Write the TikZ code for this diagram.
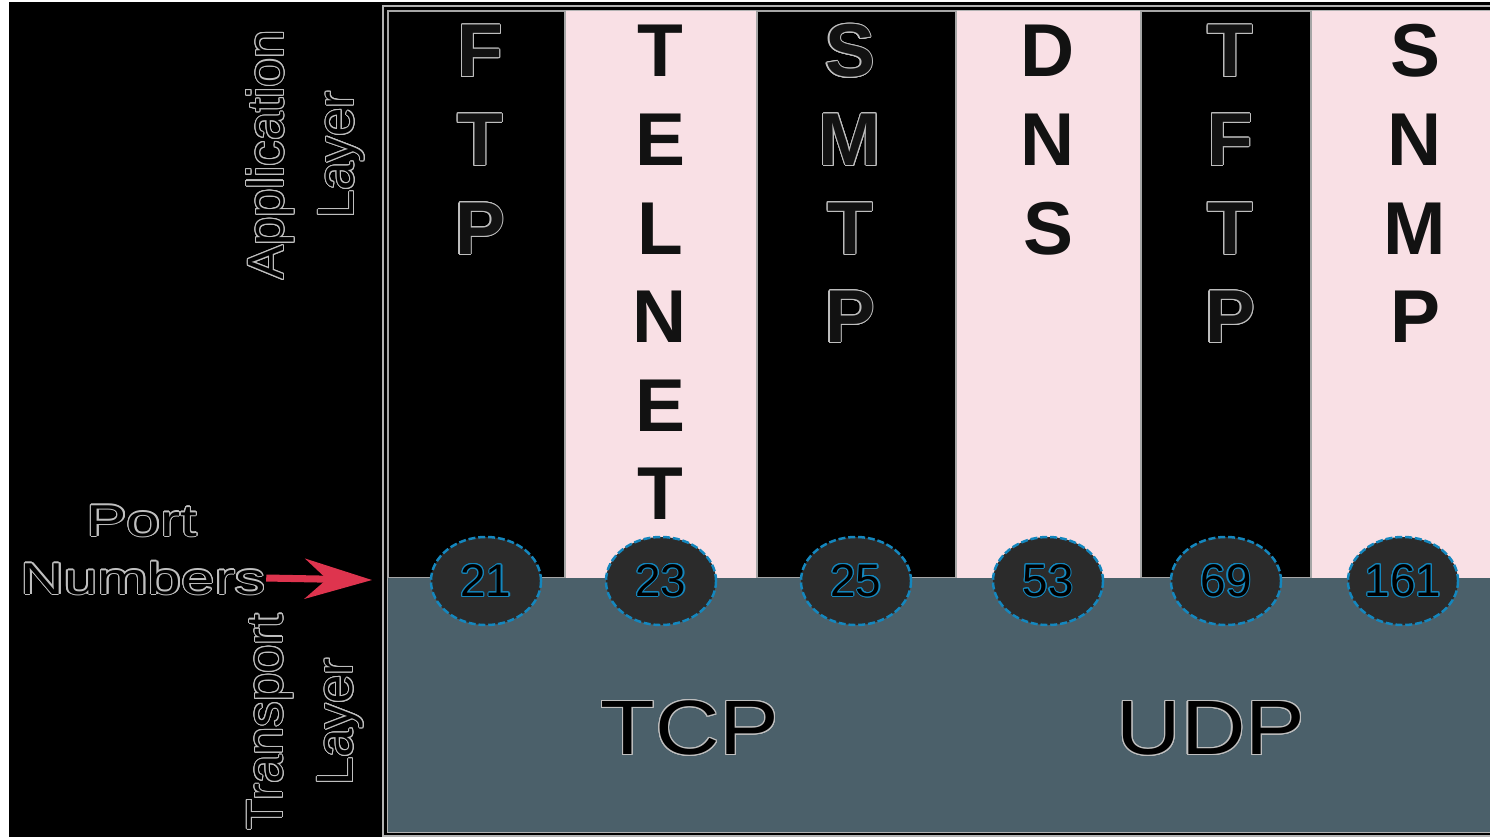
\documentclass[tikz,border=0pt]{standalone}
\usepackage{fontspec}
\setmainfont{Liberation Sans}
\usepackage[copies]{contour}
\usetikzlibrary{positioning,shapes.geometric,arrows.meta}
\definecolor{rowpink}{RGB}{249,224,229}
\definecolor{slate}{RGB}{75,96,106}
\definecolor{portfill}{RGB}{43,43,43}
\definecolor{portblue}{RGB}{20,135,190}
\definecolor{arrowred}{RGB}{222,52,78}
\contourlength{0.3pt}
\newcommand{\outl}[1]{\contour{gray!50}{#1}}
\newcommand{\blueoutl}[1]{\contour{portblue}{#1}}
\begin{document}
\begin{tikzpicture}[x=0.01cm,y=-0.01cm,
    dkcol/.style={fill=black,draw=gray!70,line width=0.6pt},
    ltcol/.style={fill=rowpink},
    letter/.style={inner sep=0,text height=15.3pt,text depth=0pt,font=\bfseries\fontsize{21.3}{25}\selectfont,text=black!93},
    side/.style={inner sep=0,align=center,rotate=90,font=\fontsize{14.5}{20}\selectfont,text=black},
    plabel/.style={inner sep=0,xscale=1.35,text height=9.1pt,text depth=0pt,font=\fontsize{12.7}{15}\selectfont,text=black},
    port/.style={ellipse,fill=portfill,draw=portblue,dash pattern=on 2pt off 0.8pt,line width=0.7pt,minimum width=1.1cm,minimum height=0.88cm,inner sep=0,font=\fontsize{13}{13}\selectfont,text=black},
    proto/.style={inner sep=0,xscale=1.16,text height=15.7pt,text depth=0pt,font=\fontsize{21.9}{22}\selectfont,text=black},
    arr/.style={-{Stealth[length=0.67cm,width=0.4cm,inset=0.22cm]},arrowred,line width=2pt}
]
\useasboundingbox (0,0) rectangle (1490,838);
\clip (0,0) rectangle (1490,838);
\fill[white] (0,0) rectangle (1490,838);
\fill[black] (9,2) rectangle (1490,837);

% layer frame
\draw[gray!60,line width=0.8pt] (383,6) rectangle (1500,836);
\draw[gray!60,line width=0.8pt] (388,11) rectangle (1500,832);

% application columns
\draw[dkcol] (388,11) rectangle (565,578);
\fill[ltcol] (566,11) rectangle (756,578);
\draw[dkcol] (757,11) rectangle (956,578);
\fill[ltcol] (957,11) rectangle (1140,578);
\draw[dkcol] (1141,11) rectangle (1311,578);
\fill[ltcol] (1312,11) rectangle (1500,578);

% transport block
\fill[slate] (388,578) rectangle (1500,832);

\foreach \ch [count=\i] in {F,T,P}
  \node[letter] (ftp\i) at (480,{50+88.6*(\i-1)}) {\outl{\ch}};
\foreach \ch [count=\i] in {T,E,L,N,E,T}
  \node[letter] (telnet\i) at (660,{50+88.6*(\i-1)}) {\ch};
\foreach \ch [count=\i] in {S,M,T,P}
  \node[letter] (smtp\i) at (850,{50+88.6*(\i-1)}) {\outl{\ch}};
\foreach \ch [count=\i] in {D,N,S}
  \node[letter] (dns\i) at (1048,{50+88.6*(\i-1)}) {\ch};
\foreach \ch [count=\i] in {T,F,T,P}
  \node[letter] (tftp\i) at (1230,{50+88.6*(\i-1)}) {\outl{\ch}};
\foreach \ch [count=\i] in {S,N,M,P}
  \node[letter] (snmp\i) at (1415,{50+88.6*(\i-1)}) {\ch};

% port numbers
\node[port] (p21) at (486,581) {\blueoutl{21}};
\node[port] (p23) at (661,581) {\blueoutl{23}};
\node[port] (p25) at (856,581) {\blueoutl{25}};
\node[port] (p53) at (1048,581) {\blueoutl{53}};
\node[port] (p69) at (1226,581) {\blueoutl{69}};
\node[port] (p161) at (1403,581) {\blueoutl{161}};

\node[proto] (tcp) at (690,727) {\outl{TCP}};
\node[proto] (udp) at (1211,727) {\outl{UDP}};

% side labels
\node[side] (applayer) at (306,155) {\outl{Application}\\\outl{Layer}};
\node[side] (translayer) at (306,722) {\outl{Transport}\\\outl{Layer}};
\node[plabel] (portlbl) at (142,520) {\outl{Port}};
\node[plabel] (numlbl) at (143,578) {\outl{Numbers}};
\coordinate (portin) at (372,580);
\draw[arr] (numlbl.east) -- (portin);
\end{tikzpicture}
\end{document}
